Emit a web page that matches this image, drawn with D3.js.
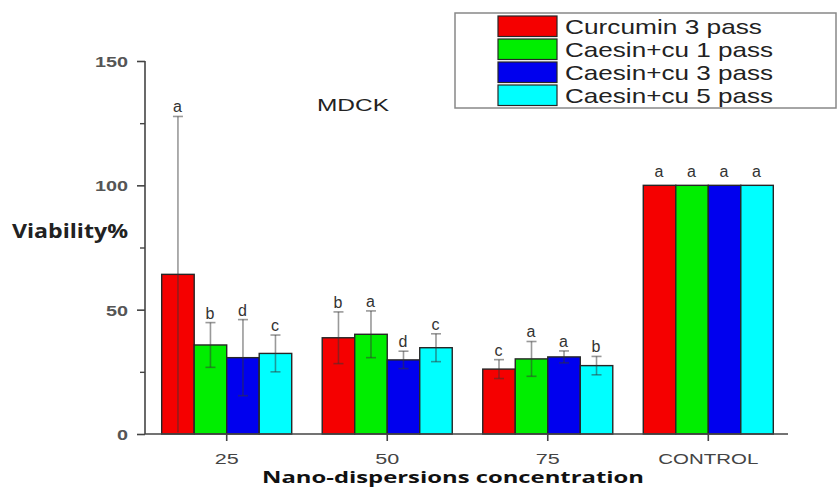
<!DOCTYPE html>
<html>
<head>
<meta charset="utf-8">
<script src="https://cdn.jsdelivr.net/npm/d3@7"></script>
<style>
  html, body { margin: 0; padding: 0; background: #fff; }
  svg { display: block; }
</style>
</head>
<body>
<svg id="chart" width="837" height="488"></svg>
<script>
// ---- data ----
const categories = ["25", "50", "75", "CONTROL"];
const seriesNames = ["Curcumin 3 pass", "Caesin+cu 1 pass", "Caesin+cu 3 pass", "Caesin+cu 5 pass"];
const curcumin3 = [64.2, 38.7, 26.1, 100];
const caesin1 = [35.8, 40.1, 30.2, 100];
const caesin3 = [30.7, 29.8, 31.0, 100];
const caesin5 = [32.4, 34.7, 27.5, 100];
const curcumin3Err = [63.5, 10.4, 3.8, 0];
const caesin1Err = [9.0, 9.4, 7.0, 0];
const caesin3Err = [15.3, 3.5, 2.4, 0];
const caesin5Err = [7.4, 5.6, 3.7, 0];
const curcumin3Letters = ["a", "b", "c", "a"];
const caesin1Letters = ["b", "a", "a", "a"];
const caesin3Letters = ["d", "d", "a", "a"];
const caesin5Letters = ["c", "c", "b", "a"];
const yTicks = [0, 50, 100, 150];
const yMinorTicks = [25, 75, 125];
const seriesColors = ["#f50000", "#00ee00", "#0000ee", "#00ffff"];

const values = [curcumin3, caesin1, caesin3, caesin5];
const errors = [curcumin3Err, caesin1Err, caesin3Err, caesin5Err];
const letters = [curcumin3Letters, caesin1Letters, caesin3Letters, caesin5Letters];

const svg = d3.select("#chart");

function fitText(sel, w) {
  sel.attr("textLength", w).attr("lengthAdjust", "spacingAndGlyphs");
}

// ---- scales ----
const x0 = d3.scaleBand().domain(categories).range([145, 790])
  .paddingInner(0.19).paddingOuter(0.104);
const x1 = d3.scaleBand().domain(d3.range(seriesNames.length)).range([0, x0.bandwidth()]).padding(0);
const y = d3.scaleLinear().domain([0, 150]).range([434, 61]);

// ---- bars ----
const rows = [];
categories.forEach((c, ci) => {
  seriesNames.forEach((s, si) => {
    rows.push({ c, si, v: values[si][ci], e: errors[si][ci], l: letters[si][ci] });
  });
});

const g = svg.append("g");
g.selectAll("rect.bar").data(rows).join("rect")
  .attr("class", "bar")
  .attr("x", d => x0(d.c) + x1(d.si))
  .attr("y", d => y(d.v))
  .attr("width", x1.bandwidth())
  .attr("height", d => y(0) - y(d.v))
  .attr("fill", d => seriesColors[d.si])
  .attr("stroke", "#262626")
  .attr("stroke-width", 1.4);

// ---- error bars ----
const eb = g.selectAll("g.err").data(rows.filter(d => d.e > 0)).join("g").attr("class", "err")
  .attr("stroke", "#333").attr("stroke-opacity", 0.5).attr("stroke-width", 1.6);
const cx = d => x0(d.c) + x1(d.si) + x1.bandwidth() / 2;
eb.append("line").attr("x1", cx).attr("x2", cx)
  .attr("y1", d => y(d.v + d.e)).attr("y2", d => y(Math.max(0, d.v - d.e)));
eb.append("line").attr("x1", d => cx(d) - 5).attr("x2", d => cx(d) + 5)
  .attr("y1", d => y(d.v + d.e)).attr("y2", d => y(d.v + d.e));
eb.append("line").attr("x1", d => cx(d) - 5).attr("x2", d => cx(d) + 5)
  .attr("y1", d => y(d.v - d.e)).attr("y2", d => y(d.v - d.e))
  .attr("display", d => d.v - d.e > 1 ? null : "none");

// ---- significance letters ----
g.selectAll("text.letter").data(rows).join("text")
  .attr("class", "letter")
  .attr("x", d => cx(d) - 0.5)
  .attr("y", d => d.e > 0 ? y(d.v + d.e) - 4 : y(d.v) - 8)
  .attr("text-anchor", "middle")
  .attr("font-family", "Liberation Sans, Arial, sans-serif")
  .attr("font-size", 16)
  .attr("fill", "#333")
  .text(d => d.l);

// ---- y axis ----
const yAxis = svg.append("g").attr("transform", "translate(145,0)")
  .call(d3.axisLeft(y).tickValues(yTicks).tickSize(8).tickPadding(9).tickFormat(d3.format("d")));
yAxis.select(".domain").attr("stroke", "#444").attr("stroke-width", 1.6).attr("d", "M0," + y(150) + "V" + y(0));
yAxis.selectAll(".tick line").attr("stroke", "#444").attr("stroke-width", 1.6);
yAxis.selectAll(".tick text")
  .attr("font-family", "Liberation Sans, Arial, sans-serif")
  .attr("font-weight", "bold")
  .attr("font-size", 15)
  .attr("fill", "#555")
  .attr("dy", "0.36em")
  .each(function (d) { fitText(d3.select(this), String(d).length * 11); });

const yMinor = svg.append("g").attr("transform", "translate(145,0)")
  .call(d3.axisLeft(y).tickValues(yMinorTicks).tickSize(5).tickFormat(""));
yMinor.select(".domain").remove();
yMinor.selectAll(".tick line").attr("stroke", "#444").attr("stroke-width", 1.4);

// ---- x axis ----
const xAxis = svg.append("g").attr("transform", "translate(0,434)")
  .call(d3.axisBottom(x0).tickSize(7).tickSizeOuter(0));
xAxis.select(".domain").attr("stroke", "#444").attr("stroke-width", 1.6).attr("d", "M145,0H788");
xAxis.selectAll(".tick line").attr("stroke", "#444").attr("stroke-width", 1.6);
xAxis.selectAll(".tick text")
  .attr("y", 29.5).attr("dy", 0)
  .attr("font-family", "Liberation Sans, Arial, sans-serif")
  .attr("font-size", 15.5)
  .attr("fill", "#444")
  .each(function (d) { fitText(d3.select(this), d === "CONTROL" ? 100 : 24); });

// ---- axis titles ----
svg.append("text").attr("x", 12).attr("y", 238)
  .attr("font-family", "Open Sans, DejaVu Sans, sans-serif")
  .attr("font-weight", "bold").attr("font-size", 20).attr("fill", "#222")
  .text("Viability%").call(fitText, 116);

svg.append("text").attr("x", 262).attr("y", 483)
  .attr("font-family", "Open Sans, DejaVu Sans, sans-serif")
  .attr("font-weight", "bold").attr("font-size", 16.5).attr("fill", "#111")
  .text("Nano-dispersions concentration").call(fitText, 382);

svg.append("text").attr("x", 317).attr("y", 111)
  .attr("font-family", "Liberation Sans, Arial, sans-serif")
  .attr("font-size", 17).attr("fill", "#222")
  .text("MDCK").call(fitText, 72);

// ---- legend ----
const lg = svg.append("g");
lg.append("rect").attr("x", 455).attr("y", 13).attr("width", 381).attr("height", 95)
  .attr("fill", "#fff").attr("stroke", "#888").attr("stroke-width", 1.5);
const legendWidths = [197, 208, 208, 208];
const li = lg.selectAll("g.li").data(seriesNames).join("g").attr("class", "li")
  .attr("transform", (d, i) => "translate(0," + (16 + i * 23) + ")");
li.append("rect").attr("x", 498).attr("y", 0).attr("width", 59).attr("height", 20.5)
  .attr("fill", (d, i) => seriesColors[i]).attr("stroke", "#262626").attr("stroke-width", 1.2);
li.append("text").attr("x", 565).attr("y", 18)
  .attr("font-family", "Liberation Sans, Arial, sans-serif")
  .attr("font-size", 21).attr("fill", "#222")
  .text(d => d)
  .each(function (d, i) { fitText(d3.select(this), legendWidths[i]); });
</script>
</body>
</html>
